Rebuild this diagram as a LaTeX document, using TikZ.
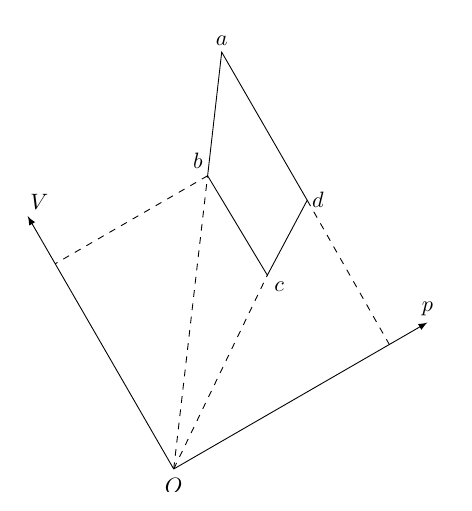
\documentclass[tikz,border=0pt]{standalone}
\usepackage{tikz}
\usetikzlibrary{arrows,positioning}

\begin{document}
\begin{tikzpicture}[
    x=0.45pt, y=0.45pt,
    axis/.style={-latex},
    proj/.style={dashed},
    lbl/.style={inner sep=3pt}
]
    \useasboundingbox (-173.7,-42) rectangle (297.3,469);
    \clip (-173.7,-22.5) rectangle (297.3,469);

    % === POINTS (p-V frame, turned by 30 degrees) ===
    \begin{scope}[rotate=30]
    \coordinate (O) at (0,0);
    \coordinate (p) at (293,0);
    \coordinate (V) at (0,292);
    \coordinate (a) at (250,337);
    \coordinate (b) at (176,237);
    \coordinate (c) at (178,121);
    \coordinate (d) at (250,166);
    \coordinate (Vb) at (0,237);
    \coordinate (pd) at (249,0);
    \end{scope}

    % === LABELS ===
    \node[lbl, below, yshift=-1pt] (Olbl) at (O) {$O$};
    \node[lbl, above] (plbl) at (p) {$p$};
    \node[lbl, above right, xshift=-2pt] (Vlbl) at (V) {$V$};
    \node[lbl, above] (albl) at (a) {$a$};
    \node[lbl, above left, xshift=1pt] (blbl) at (b) {$b$};
    \node[lbl, below right] (clbl) at (c) {$c$};
    \node[lbl, right, xshift=-1pt] (dlbl) at (d) {$d$};

    % === AXES ===
    \draw[axis] (O) -- (V);
    \draw[axis] (O) -- (p);

    % === CYCLE ===
    \draw (a) -- (b) -- (c) -- (d) -- cycle;

    % Projections
    \draw[proj] (b) -- (Vb);
    \draw[proj] (d) -- (pd);
    \draw[proj] (O) -- (b);
    \draw[proj] (O) -- (c);

\end{tikzpicture}
\end{document}
